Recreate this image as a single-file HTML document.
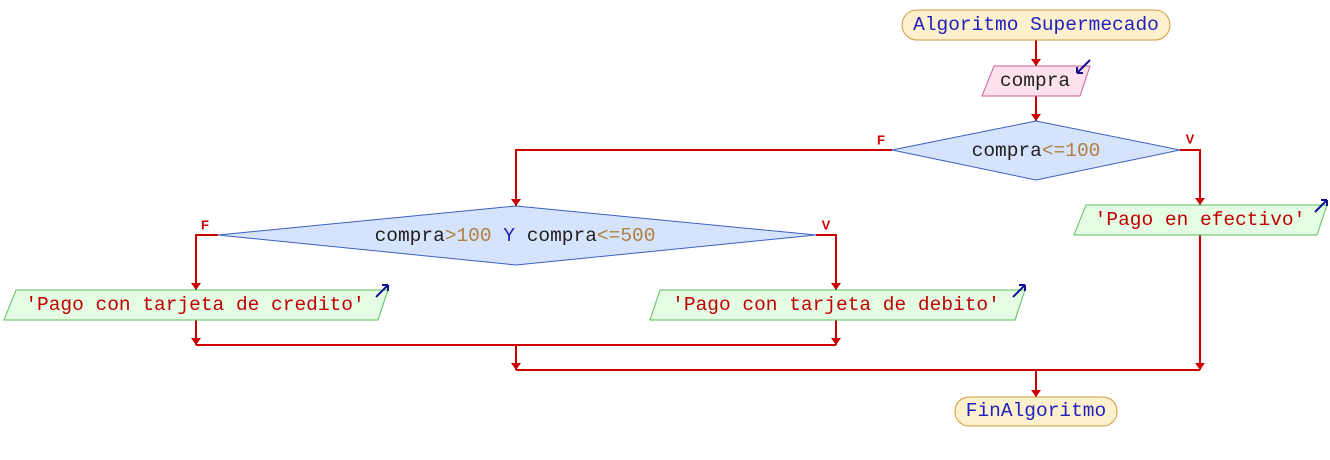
<!DOCTYPE html>
<html><head><meta charset="utf-8"><style>
html,body{margin:0;padding:0;background:#fff;width:1330px;height:460px;overflow:hidden}
svg text{font-family:"Liberation Mono","Courier New",monospace;font-size:19.5px;dominant-baseline:central;text-anchor:middle}
</style></head><body>
<svg width="1330" height="460" xmlns="http://www.w3.org/2000/svg">
<defs>
<marker id="a" markerWidth="10" markerHeight="8" refX="5" refY="7" orient="0" markerUnits="userSpaceOnUse"><path d="M0,0 L10,0 L5,7 z" fill="#cc0000"/></marker>
</defs>
<g stroke="#cc0000" stroke-width="2" fill="none">
<line x1="1036" y1="40" x2="1036" y2="66" marker-end="url(#a)"/>
<line x1="1036" y1="96" x2="1036" y2="121" marker-end="url(#a)"/>
<polyline points="892,150 516,150 516,206" marker-end="url(#a)"/>
<polyline points="1180,150 1200,150 1200,205" marker-end="url(#a)"/>
<polyline points="218,235 196,235 196,290" marker-end="url(#a)"/>
<polyline points="816,235 836,235 836,290" marker-end="url(#a)"/>
<line x1="196" y1="320" x2="196" y2="345" marker-end="url(#a)"/>
<line x1="836" y1="320" x2="836" y2="345" marker-end="url(#a)"/>
<line x1="196" y1="345" x2="836" y2="345"/>
<line x1="516" y1="345" x2="516" y2="370" marker-end="url(#a)"/>
<line x1="1200" y1="235" x2="1200" y2="370" marker-end="url(#a)"/>
<line x1="516" y1="370" x2="1200" y2="370"/>
<line x1="1036" y1="370" x2="1036" y2="397" marker-end="url(#a)"/>
</g>
<rect x="902" y="10" width="268" height="30" rx="15" fill="#fdf0cc" stroke="#d09a40"/>
<text x="1036" y="25" fill="#2020c0">Algoritmo Supermecado</text>
<polygon points="994,66 1090,66 1080,96 982,96" fill="#fde2ee" stroke="#c8609a"/>
<text x="1035" y="81" fill="#202020">compra</text>
<path d="M1090,60 L1077,73 M1077,73 l0,-6 M1077,73 l6,0" stroke="#101090" stroke-width="2" fill="none"/>
<polygon points="892,150 1036,121 1180,150 1036,180" fill="#d6e3fc" stroke="#3d5fc0"/>
<text x="1036" y="151"><tspan fill="#202020">compra</tspan><tspan fill="#b08040">&lt;=100</tspan></text>
<g font-family="Liberation Sans,sans-serif" font-weight="bold" font-size="13" fill="#cc0000">
<text x="881" y="140" style="font-family:'Liberation Sans',sans-serif;font-size:13px">F</text>
<text x="1190" y="139" style="font-family:'Liberation Sans',sans-serif;font-size:13px">V</text>
<text x="205" y="225" style="font-family:'Liberation Sans',sans-serif;font-size:13px">F</text>
<text x="826" y="225" style="font-family:'Liberation Sans',sans-serif;font-size:13px">V</text>
</g>
<polygon points="218,235 516,206 816,235 516,265" fill="#d6e3fc" stroke="#3d5fc0"/>
<text x="515" y="236"><tspan fill="#202020">compra</tspan><tspan fill="#b08040">&gt;100 </tspan><tspan fill="#2020c0">Y </tspan><tspan fill="#202020">compra</tspan><tspan fill="#b08040">&lt;=500</tspan></text>
<polygon points="1086,205 1327,205 1317,235 1074,235" fill="#e4fce4" stroke="#5cbf5c"/>
<text x="1200" y="220" fill="#c00000">'Pago en efectivo'</text>
<path d="M1315,212 L1327,200 M1327,200 l-6,0 M1327,200 l0,6" stroke="#101090" stroke-width="2" fill="none"/>
<polygon points="16,290 388,290 378,320 4,320" fill="#e4fce4" stroke="#5cbf5c"/>
<text x="195" y="305" fill="#c00000">'Pago con tarjeta de credito'</text>
<path d="M376,297 L388,285 M388,285 l-6,0 M388,285 l0,6" stroke="#101090" stroke-width="2" fill="none"/>
<polygon points="660,290 1025,290 1015,320 650,320" fill="#e4fce4" stroke="#5cbf5c"/>
<text x="836" y="305" fill="#c00000">'Pago con tarjeta de debito'</text>
<path d="M1013,297 L1025,285 M1025,285 l-6,0 M1025,285 l0,6" stroke="#101090" stroke-width="2" fill="none"/>
<rect x="955" y="397" width="162" height="29" rx="14" fill="#fdf0cc" stroke="#d09a40"/>
<text x="1036" y="411" fill="#2020c0">FinAlgoritmo</text>
</svg>
</body></html>
